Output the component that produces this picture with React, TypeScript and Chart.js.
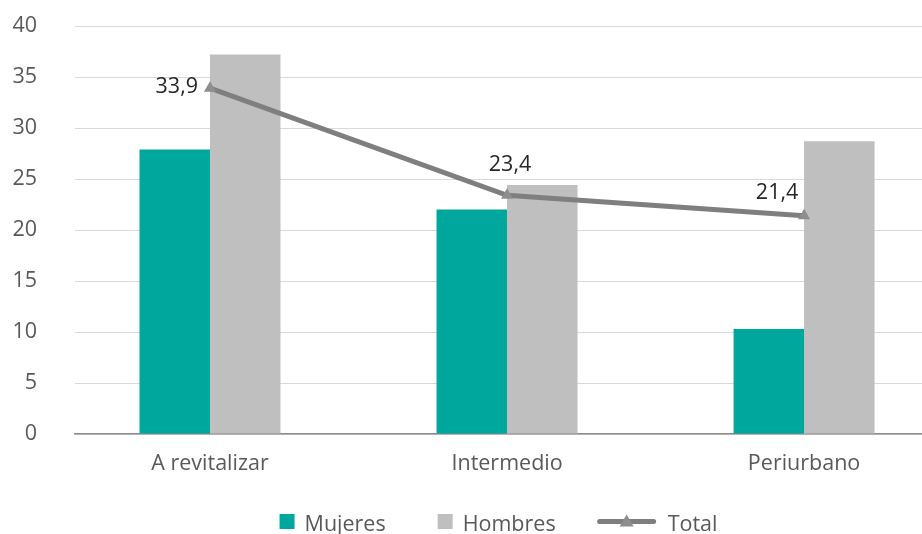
import React, { useEffect, useRef } from 'react';
import { Chart, registerables } from 'chart.js';

Chart.register(...registerables);

// ---- data ----
const categories = ['A revitalizar', 'Intermedio', 'Periurbano'];
const mujeres = [27.9, 22.0, 10.3];
const hombres = [37.2, 24.4, 28.7];
const total = [33.9, 23.4, 21.4];
const seriesNames = ['Mujeres', 'Hombres', 'Total'];
const yMin = 0;
const yMax = 40;
const yStep = 5;
const totalLabelPlacement = ['left', 'top', 'topLeft'];

// ---- style ----
const FONT = '"Open Sans", "Noto Sans", sans-serif';
const FS = 21.5;
const TEAL = '#00A79D';
const LIGHT_GRAY = '#BFBFBF';
const LINE_GRAY = '#7F7F7F';
const MARKER_GRAY = '#8E8E8E';
const AXIS_TEXT = '#595959';
const LABEL_TEXT = '#262626';

const fmt = (v: number) => v.toFixed(1).replace('.', ',');

const dataLabelPlugin = {
  id: 'totalLabels',
  afterDatasetsDraw(chart: any) {
    const meta = chart.getDatasetMeta(2);
    const ctx = chart.ctx;
    ctx.save();
    ctx.font = `${FS}px ${FONT}`;
    ctx.fillStyle = LABEL_TEXT;
    ctx.textBaseline = 'middle';
    meta.data.forEach((pt: any, i: number) => {
      const place = totalLabelPlacement[i];
      const text = fmt(total[i]);
      if (place === 'left') {
        ctx.textAlign = 'right';
        ctx.fillText(text, pt.x - 12, pt.y - 1);
      } else if (place === 'top') {
        ctx.textAlign = 'center';
        ctx.fillText(text, pt.x + 3, pt.y - 30);
      } else {
        ctx.textAlign = 'center';
        ctx.fillText(text, pt.x - 27, pt.y - 23);
      }
    });
    ctx.restore();
  },
};

const legendPlugin = {
  id: 'customLegend',
  afterDraw(chart: any) {
    const ctx = chart.ctx;
    const area = chart.chartArea;
    ctx.save();
    ctx.font = `${FS}px ${FONT}`;
    const w = seriesNames.map((n) => ctx.measureText(n).width);
    const sq = 15;
    const sqGap = 10;
    const lineW = 58;
    const lineGap = 12;
    const gap1 = 52;
    const gap2 = 42;
    const totalW = sq + sqGap + w[0] + gap1 + sq + sqGap + w[1] + gap2 + lineW + lineGap + w[2];
    let x = (area.left + area.right) / 2 - totalW / 2;
    const cy = 521.5;
    const baseY = 531;
    ctx.textBaseline = 'alphabetic';
    ctx.textAlign = 'left';
    // Mujeres
    ctx.fillStyle = TEAL;
    ctx.fillRect(x, cy - sq / 2, sq, sq);
    x += sq + sqGap;
    ctx.fillStyle = AXIS_TEXT;
    ctx.fillText(seriesNames[0], x, baseY);
    x += w[0] + gap1;
    // Hombres
    ctx.fillStyle = LIGHT_GRAY;
    ctx.fillRect(x, cy - sq / 2, sq, sq);
    x += sq + sqGap;
    ctx.fillStyle = AXIS_TEXT;
    ctx.fillText(seriesNames[1], x, baseY);
    x += w[1] + gap2;
    // Total
    ctx.strokeStyle = LINE_GRAY;
    ctx.lineWidth = 5;
    ctx.lineCap = 'round';
    ctx.beginPath();
    ctx.moveTo(x + 2, cy);
    ctx.lineTo(x + lineW - 2, cy);
    ctx.stroke();
    const tx = x + lineW / 2;
    ctx.fillStyle = MARKER_GRAY;
    ctx.beginPath();
    ctx.moveTo(tx, cy - 7);
    ctx.lineTo(tx + 7, cy + 5);
    ctx.lineTo(tx - 7, cy + 5);
    ctx.closePath();
    ctx.fill();
    x += lineW + lineGap;
    ctx.fillStyle = AXIS_TEXT;
    ctx.fillText(seriesNames[2], x, baseY);
    ctx.restore();
  },
};

export default function App() {
  const ref = useRef<HTMLCanvasElement>(null);

  useEffect(() => {
    if (!ref.current) return;
    const toXY = (arr: number[]) => arr.map((v, i) => ({ x: i, y: v }));
    const chart = new Chart(ref.current, {
      type: 'bar',
      data: {
        datasets: [
          {
            type: 'bar',
            label: seriesNames[0],
            data: toXY(mujeres),
            backgroundColor: TEAL,
            categoryPercentage: 0.4747,
            barPercentage: 1,
            order: 2,
          } as any,
          {
            type: 'bar',
            label: seriesNames[1],
            data: toXY(hombres),
            backgroundColor: LIGHT_GRAY,
            categoryPercentage: 0.4747,
            barPercentage: 1,
            order: 2,
          } as any,
          {
            type: 'line',
            label: seriesNames[2],
            data: toXY(total),
            borderColor: LINE_GRAY,
            borderWidth: 5,
            pointStyle: 'triangle',
            pointRadius: 7,
            pointBackgroundColor: MARKER_GRAY,
            pointBorderColor: MARKER_GRAY,
            pointBorderWidth: 0,
            tension: 0,
            order: 0,
          } as any,
        ],
      },
      options: {
        responsive: false,
        animation: false,
        devicePixelRatio: 1,
        layout: { autoPadding: false, padding: { top: 26, left: 0, right: 0, bottom: 0 } },
        plugins: {
          legend: { display: false },
          tooltip: { enabled: false },
        },
        scales: {
          x: {
            type: 'linear',
            min: -0.4545,
            max: 2.397,
            offset: false,
            grid: { display: false },
            border: { display: true, color: '#8C8C8C', width: 1.5 },
            afterBuildTicks: (scale: any) => {
              scale.ticks = categories.map((_, i) => ({ value: i }));
            },
            afterFit: (scale: any) => {
              scale.height = 100;
              scale.paddingLeft = 0;
              scale.paddingRight = 0;
            },
            ticks: {
              autoSkip: false,
              maxRotation: 0,
              padding: 9,
              color: AXIS_TEXT,
              font: { family: FONT, size: FS },
              callback: (v: any) => categories[Math.round(Number(v))] ?? '',
            },
          },
          y: {
            type: 'linear',
            min: yMin,
            max: yMax,
            grid: { color: '#D9D9D9', lineWidth: 1, drawTicks: false },
            border: { display: false },
            afterFit: (scale: any) => {
              scale.width = 75;
              scale.paddingTop = 0;
              scale.paddingBottom = 0;
            },
            ticks: {
              stepSize: yStep,
              padding: 38,
              color: AXIS_TEXT,
              font: { family: FONT, size: FS },
            },
          },
        },
      } as any,
      plugins: [dataLabelPlugin, legendPlugin],
    });
    return () => chart.destroy();
  }, []);

  return (
    <div style={{ position: 'absolute', left: 0, top: 0, width: 922, height: 534, background: '#fff' }}>
      <canvas ref={ref} width={922} height={534} />
    </div>
  );
}
